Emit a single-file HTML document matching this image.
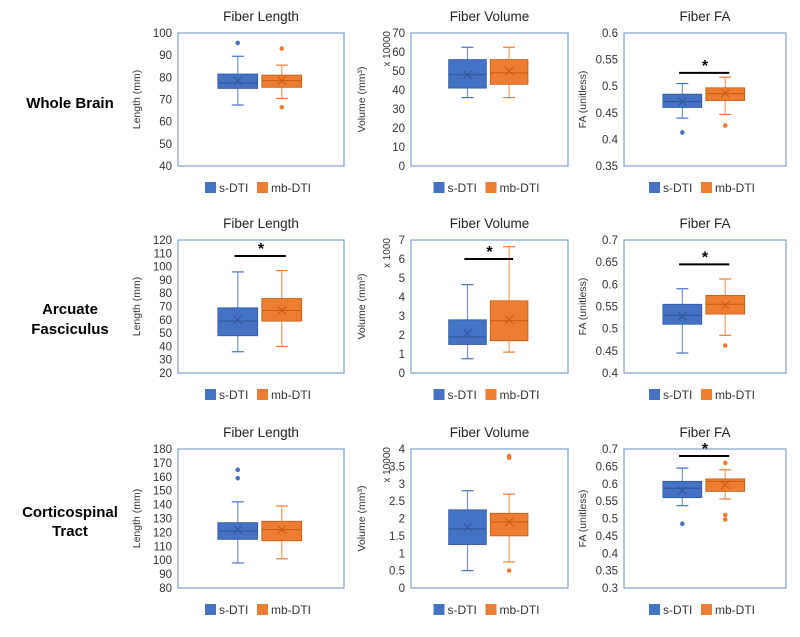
<!DOCTYPE html>
<html><head><meta charset="utf-8"><style>
body{margin:0;background:#fff;}
svg text{font-family:"Liberation Sans",Arial,sans-serif;}
</style></head><body>
<svg id="fig" width="800" height="632" viewBox="0 0 800 632" xmlns="http://www.w3.org/2000/svg">
<text x="70" y="108" text-anchor="middle" font-size="15" font-weight="bold">Whole Brain</text>
<text x="70" y="314" text-anchor="middle" font-size="15" font-weight="bold">Arcuate</text>
<text x="70" y="334" text-anchor="middle" font-size="15" font-weight="bold">Fasciculus</text>
<text x="70" y="517" text-anchor="middle" font-size="15" font-weight="bold">Corticospinal</text>
<text x="70" y="536" text-anchor="middle" font-size="15" font-weight="bold">Tract</text>
</svg>
<script>
// Data: [min, q1, median, q3, max, mean, outliers]
const panelTitles = ["Fiber Length","Fiber Volume","Fiber FA"];
const yTitles = ["Length (mm)","Volume (mm³)","FA (unitless)"];
const r1Ticks = [[40,100,10],[0,70,10],[0.35,0.6,0.05]];
const r2Ticks = [[20,120,10],[0,7,1],[0.4,0.7,0.05]];
const r3Ticks = [[80,180,10],[0,4,0.5],[0.3,0.7,0.05]];
const scaleLabels = [["", "x 10000", ""],["", "x 1000", ""],["", "x 10000", ""]];
const r1s = [[67.5,75,77.5,81.5,89.5,78.5,[95.5]],[36,41,48,56,62.5,48,[]],[0.44,0.46,0.471,0.485,0.505,0.471,[0.413]]];
const r1m = [[70.5,75.5,78.5,81,85.5,78.5,[93,66.5]],[36,43,49,56,62.5,50,[]],[0.447,0.473,0.486,0.497,0.517,0.487,[0.426]]];
const r2s = [[36,48,59,69,96,60,[]],[0.75,1.5,1.9,2.8,4.65,2.1,[]],[0.445,0.51,0.53,0.555,0.59,0.528,[]]];
const r2m = [[40,59,67,76,97,67,[]],[1.1,1.7,2.75,3.8,6.65,2.8,[]],[0.485,0.533,0.555,0.575,0.612,0.553,[0.462]]];
const r3s = [[98,115,121,127,142,122,[165,159]],[0.5,1.25,1.7,2.25,2.8,1.75,[]],[0.537,0.56,0.587,0.607,0.645,0.58,[0.485]]];
const r3m = [[101,114,122,128,139,122,[]],[0.75,1.5,1.9,2.15,2.7,1.9,[3.8,3.75,0.5]],[0.556,0.578,0.607,0.614,0.64,0.597,[0.66,0.51,0.497]]];
const sigBars = [[null,null,0.525],[108,6.0,0.645],[null,null,0.68]];

const NS="http://www.w3.org/2000/svg";
const svg=document.getElementById('fig');
const cols=[[178,344],[411,568],[624,786]];
const rows=[[33,166],[240,373],[449,588]];
const tickSets=[r1Ticks,r2Ticks,r3Ticks];
const sData=[r1s,r2s,r3s], mData=[r1m,r2m,r3m];
const BLUE="#4472C4", ORANGE="#ED7D31";
function mk(tag,attrs,parent){const e=document.createElementNS(NS,tag);for(const k in attrs)e.setAttribute(k,attrs[k]);(parent||svg).appendChild(e);return e;}
function txt(x,y,s,attrs,parent){const e=mk('text',Object.assign({x:x,y:y},attrs),parent);e.textContent=s;return e;}
const rowNames=["whole-brain","arcuate","corticospinal"], colNames=["length","volume","fa"];
const yTitleOff=[38,46,38];
for(let r=0;r<3;r++)for(let c=0;c<3;c++){
  const [x0,x1]=cols[c],[y0,y1]=rows[r];
  const [lo,hi,st]=tickSets[r][c];
  const g=mk('g',{});
  
  
  const ys=v=>y1-(v-lo)/(hi-lo)*(y1-y0);
  const w=x1-x0;
  const t=txt((x0+x1)/2,y0-12,panelTitles[c],{'text-anchor':'middle','font-size':'13.5','fill':'#222'},g);
  
  
  const fr=mk('rect',{x:x0,y:y0,width:w,height:y1-y0,fill:'none',stroke:'#7f9fd0','stroke-width':1.2},g);
  
  
  const n=Math.round((hi-lo)/st);
  for(let i=0;i<=n;i++){
    const v=lo+i*st;
    const s=String(parseFloat(v.toFixed(2)));
    const tl=txt(x0-6,ys(v)+4,s,{'text-anchor':'end','font-size':'11.5','fill':'#333'},g);
    
    
  }
  const yl=x0-yTitleOff[c];
  const ytx=txt(0,0,yTitles[c],{'text-anchor':'middle','font-size':'10.5','fill':'#333',transform:'translate('+yl+','+((y0+y1)/2)+') rotate(-90)'},g);
  
  
  if(scaleLabels[r][c]){
    const sl=txt(0,0,scaleLabels[r][c],{'text-anchor':'end','font-size':'10','fill':'#333',transform:'translate('+(x0-21)+','+(y0-2)+') rotate(-90)'},g);
    
    
  }
  const series=[[sData[r][c],BLUE,0.36,'s-dti'],[mData[r][c],ORANGE,0.625,'mb-dti']];
  const bw=w*0.24;
  series.forEach(([d,col,f,nm])=>{
    const cx=x0+w*f;
    const [mn,q1,md,q3,mx,mean,outs]=d;
    const dark=col==BLUE?'#2f5597':'#c55a11';
    const bg=mk('g',{},g);
    
    
    mk('line',{x1:cx,x2:cx,y1:ys(mx),y2:ys(q3),stroke:col,'stroke-width':1.2,'stroke-opacity':0.75},bg);
    mk('line',{x1:cx,x2:cx,y1:ys(q1),y2:ys(mn),stroke:col,'stroke-width':1.2,'stroke-opacity':0.75},bg);
    mk('line',{x1:cx-6,x2:cx+6,y1:ys(mx),y2:ys(mx),stroke:col,'stroke-width':1.2},bg);
    mk('line',{x1:cx-6,x2:cx+6,y1:ys(mn),y2:ys(mn),stroke:col,'stroke-width':1.2},bg);
    mk('rect',{x:cx-bw/2,y:ys(q3),width:bw,height:ys(q1)-ys(q3),fill:col,stroke:dark,'stroke-width':0.8},bg);
    mk('line',{x1:cx-bw/2,x2:cx+bw/2,y1:ys(md),y2:ys(md),stroke:dark,'stroke-width':1},bg);
    const my=ys(mean);
    mk('path',{d:'M'+(cx-4)+' '+(my-4)+'L'+(cx+4)+' '+(my+4)+'M'+(cx+4)+' '+(my-4)+'L'+(cx-4)+' '+(my+4),stroke:dark,'stroke-width':1},bg);
    outs.forEach(o=>{mk('circle',{cx:cx,cy:ys(o),r:2.3,fill:col},bg);});
  });
  const sb=sigBars[r][c];
  if(sb!==null){
    const by=ys(sb);
    const ln=mk('line',{x1:x0+w*0.34,x2:x0+w*0.65,y1:by,y2:by,stroke:'#000','stroke-width':2},g);
    
    
    const stx=txt(x0+w*0.5,by-2,'*',{'text-anchor':'middle','font-size':'16','font-weight':'bold'},g);
    
    
  }
  const ly=y1+21, lx=(x0+x1)/2-56;
  const lg=mk('g',{},g);
  
  
  mk('rect',{x:lx,y:ly-5,width:11,height:11,fill:BLUE},lg);
  txt(lx+14,ly+5,'s-DTI',{'font-size':'12','fill':'#333'},lg);
  mk('rect',{x:lx+52,y:ly-5,width:11,height:11,fill:ORANGE},lg);
  txt(lx+66,ly+5,'mb-DTI',{'font-size':'12','fill':'#333'},lg);
}
</script>
</body></html>
